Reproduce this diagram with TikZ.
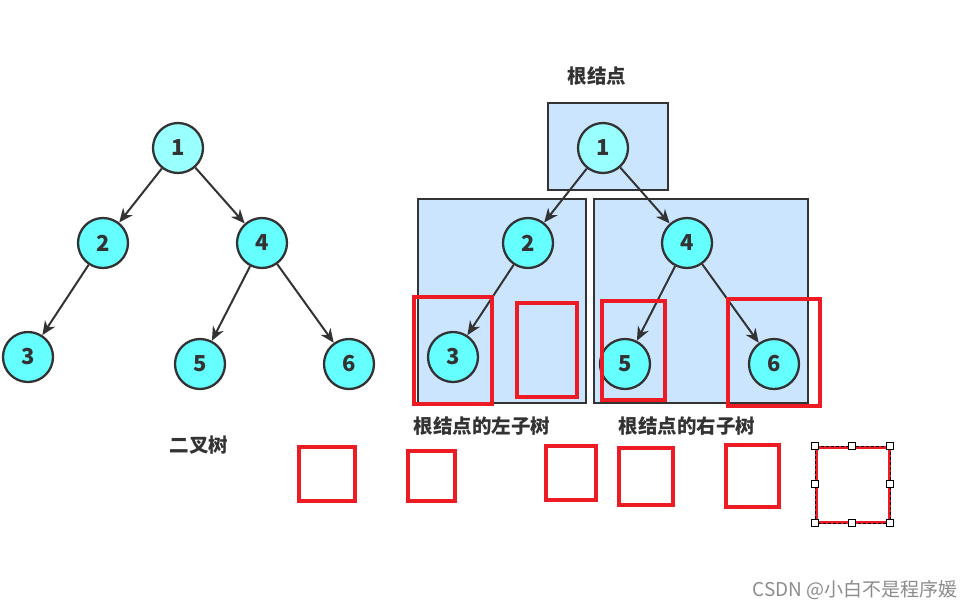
\documentclass[tikz,border=0pt]{standalone}
\usepackage{fontspec}
\setmainfont{Noto Sans CJK SC}
\usetikzlibrary{arrows.meta}
\definecolor{ink}{HTML}{333333}
\definecolor{aqua}{HTML}{66FFFF}
\definecolor{paleaqua}{HTML}{99FFFF}
\definecolor{boxblue}{HTML}{CCE5FF}
\definecolor{markred}{HTML}{ED1C24}

\begin{document}
\begin{tikzpicture}[x=1pt, y=-1pt,
      vertex/.style={circle, draw=ink, line width=2.3pt, fill=aqua,
                     minimum size=50pt, inner sep=0pt, text=ink,
                     font=\fontsize{22}{22}\selectfont\bfseries},
      rootvertex/.style={vertex, fill=paleaqua},
      edge/.style={-{Stealth[length=14pt, width=12pt]}, draw=ink, line width=2pt},
      part/.style={draw=ink, line width=2pt, fill=boxblue},
      redbox/.style={draw=markred, line width=4pt},
      handle/.style={draw=black, fill=white, line width=0.6pt,
                     minimum size=7pt, inner sep=0pt},
      caption/.style={font=\fontsize{19.5}{19.5}\selectfont\bfseries, text=ink}]
    \useasboundingbox (0,0) rectangle (974,611);
    % parts of the split tree
    \draw[part] (548,103) rectangle (668,190);
    \draw[part] (418,199) rectangle (586,403);
    \draw[part] (594,199) rectangle (808,403);
    % the same tree twice: a = plain, b = split
    \foreach \t/\dx in {a/0, b/425}{
      \node[rootvertex] (\t1) at (178+\dx,148) {1};
      \foreach \n/\x/\y in {2/103/243, 4/262/243, 3/28/357, 5/200/364, 6/349/364}
        \node[vertex] (\t\n) at (\x+\dx,\y) {\n};
      \foreach \s/\e in {1/2, 1/4, 2/3, 4/5, 4/6}
        \draw[edge] (\t\s) -- (\t\e);
    }
    % red marks
    \foreach \x/\y/\X/\Y in {414/297/492/404, 517/303/577/397, 602/301/665/400,
                             728/299/820/406, 299/447/355/501, 408/451/455/501,
                             546/446/596/500, 619/448/673/505, 726/445/779/507}
      \draw[redbox] (\x,\y) rectangle (\X,\Y);
    % selected mark with handles
    \draw[redbox, line width=3pt] (816,447) rectangle (889,522);
    \draw[black, line width=0.7pt, dash pattern=on 3pt off 2pt] (815,446) rectangle (890,523);
    \foreach \x/\y in {815/446, 852/446, 890/446, 815/484, 890/484, 815/523, 852/523, 890/523}
      \node[handle] at (\x,\y) {};
    % captions
    \node[caption] (rootcap) at (597,76) {根结点};
    \node[caption] (leftcap) at (482,426) {根结点的左子树};
    \node[caption] (rightcap) at (687,426) {根结点的右子树};
    \node[caption] (treecap) at (199,445) {二叉树};
    \node[font=\fontsize{19}{19}\selectfont, text=black!45] (credit) at (855,590)
      {CSDN @小白不是程序媛};
  \end{tikzpicture}
\end{document}
